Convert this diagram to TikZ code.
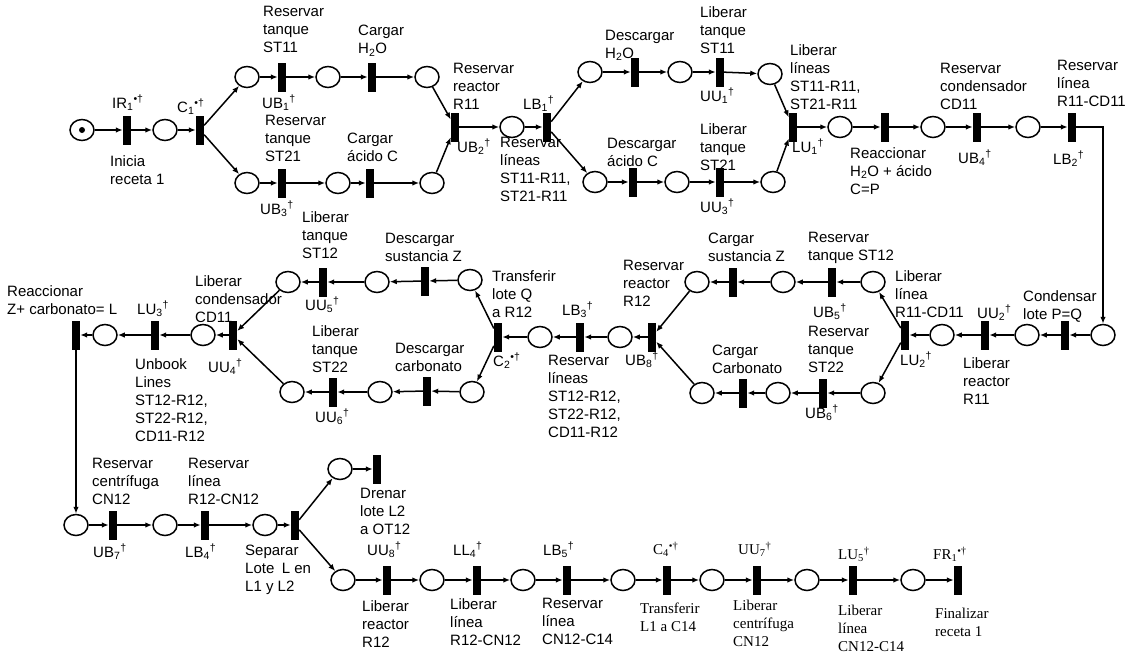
\documentclass[tikz,border=0pt]{standalone}
\usepackage{fontspec}
\setmainfont{Liberation Sans}
\newfontfamily\timesfont{Liberation Serif}
\usepackage{tikz}
\usetikzlibrary{shapes.geometric, arrows.meta}

% transition names: plain and coloured (bullet) ones
\newcommand{\tn}[2]{#1\textsubscript{#2}\textsuperscript{†}}
\newcommand{\tc}[2]{#1\textsubscript{#2}\textsuperscript{•†}}

\tikzset{
    place/.style={draw, ellipse, line width=1.5pt, minimum width=24pt, minimum height=21pt, inner sep=0pt},
    trans/.style={fill=black, rectangle, minimum width=8pt, minimum height=29pt, inner sep=0pt},
    lbl/.style={align=left, inner sep=0pt, anchor=north west, font=\fontsize{15}{18}\selectfont},
    slbl/.style={lbl, font=\fontsize{15}{18}\selectfont\timesfont},
    flow/.style={line width=1.5pt, ->}
}

\begin{document}
\begin{tikzpicture}[x=1pt, y=-1pt, >={Latex[length=7pt,width=5.5pt]}]
    \useasboundingbox (0,0) rectangle (1135,653);

    % first row: charge R11
    \node[place] (p0) at (82,130) {};
    \fill (p0) circle (3pt);
    \node[trans] (IR1) at (127,130) {};
    \node[place] (p1) at (165,130) {};
    \node[trans] (C1) at (200,130) {};
    \node[place] (pu1) at (247,77) {};
    \node[trans] (UB1) at (282,77) {};
    \node[place] (pu2) at (328,77) {};
    \node[trans] (CH) at (372,77) {};
    \node[place] (pu3) at (427,77) {};
    \node[place] (pl1) at (247,183) {};
    \node[trans] (UB3) at (282,183) {};
    \node[place] (pl2) at (338,183) {};
    \node[trans] (CA) at (370,183) {};
    \node[place] (pl3) at (432,183) {};
    \node[trans] (UB2) at (455,127) {};
    \node[place] (p2) at (512,127) {};
    \node[trans] (LB1) at (547,127) {};
    \node[place] (qu1) at (590,72) {};
    \node[trans] (DH) at (635,72) {};
    \node[place] (qu2) at (680,72) {};
    \node[trans] (UU1) at (720,72) {};
    \node[place] (qu3) at (770,74) {};
    \node[place] (ql1) at (595,182) {};
    \node[trans] (DA) at (633,182) {};
    \node[place] (ql2) at (677,182) {};
    \node[trans] (UU3) at (720,182) {};
    \node[place] (ql3) at (773,182) {};
    \node[trans] (LU1) at (793,127) {};
    \node[place] (p3) at (840,127) {};
    \node[trans] (RC) at (885,127) {};
    \node[place] (p4) at (933,127) {};
    \node[trans] (UB4) at (977,127) {};
    \node[place] (p5) at (1028,127) {};
    \node[trans] (LB2) at (1072,127) {};

    % second row: runs right to left
    \node[place] (p6) at (1103,335) {};
    \node[trans] (CQ) at (1065,335) {};
    \node[place] (p7) at (1027,335) {};
    \node[trans] (UU2) at (985,335) {};
    \node[place] (p8) at (942,335) {};
    \node[trans] (LU2) at (905,335) {};
    \node[place] (ru1) at (873,282) {};
    \node[trans] (UB5) at (832,282) {};
    \node[place] (ru2) at (783,282) {};
    \node[trans] (CZ) at (733,282) {};
    \node[place] (ru3) at (697,282) {};
    \node[place] (rl1) at (873,393) {};
    \node[trans] (UB6) at (823,393) {};
    \node[place] (rl2) at (778,393) {};
    \node[trans] (CC) at (743,393) {};
    \node[place] (rl3) at (702,393) {};
    \node[trans] (UB8) at (652,337) {};
    \node[place] (p9) at (620,337) {};
    \node[trans] (LB3) at (580,337) {};
    \node[place] (p10) at (540,337) {};
    \node[trans] (C2) at (498,337) {};
    \node[place] (su1) at (470,280) {};
    \node[trans] (DZ) at (425,281) {};
    \node[place] (su2) at (377,282) {};
    \node[trans] (UU5) at (323,282) {};
    \node[place] (su3) at (288,282) {};
    \node[place] (sl1) at (472,392) {};
    \node[trans] (DC) at (427,391) {};
    \node[place] (sl2) at (380,392) {};
    \node[trans] (UU6) at (333,392) {};
    \node[place] (sl3) at (292,392) {};
    \node[trans] (UU4) at (233,335) {};
    \node[place] (p11) at (203,335) {};
    \node[trans] (LU3) at (155,335) {};
    \node[place] (p12) at (105,335) {};
    \node[trans] (RL) at (76,335) {};

    % third row
    \node[place] (p13) at (76,525) {};
    \node[trans] (UB7) at (113,525) {};
    \node[place] (p14) at (165,525) {};
    \node[trans] (LB4) at (205,525) {};
    \node[place] (p15) at (265,525) {};
    \node[trans] (SP) at (295,525) {};
    \node[place] (tu) at (340,469) {};
    \node[trans] (DR) at (377,469) {};
    \node[place] (t1) at (343,580) {};
    \node[trans] (UU8) at (387,580) {};
    \node[place] (t2) at (432,580) {};
    \node[trans] (LL4) at (477,580) {};
    \node[place] (t3) at (523,580) {};
    \node[trans] (LB5) at (567,580) {};
    \node[place] (t4) at (623,580) {};
    \node[trans] (C4) at (667,580) {};
    \node[place] (t5) at (712,580) {};
    \node[trans] (UU7) at (757,580) {};
    \node[place] (t6) at (807,580) {};
    \node[trans] (LU5) at (853,580) {};
    \node[place] (t7) at (913,580) {};
    \node[trans] (FR1) at (958,580) {};

    \foreach \a/\b in {p0/IR1, IR1/p1, p1/C1, C1/pu1, C1/pl1, pu1/UB1, UB1/pu2, pu2/CH, CH/pu3, pu3/UB2,
        pl1/UB3, UB3/pl2, pl2/CA, CA/pl3, pl3/UB2, UB2/p2, p2/LB1, LB1/qu1, LB1/ql1,
        qu1/DH, DH/qu2, qu2/UU1, UU1/qu3, qu3/LU1, ql1/DA, DA/ql2, ql2/UU3, UU3/ql3, ql3/LU1,
        LU1/p3, p3/RC, RC/p4, p4/UB4, UB4/p5, p5/LB2,
        p6/CQ, CQ/p7, p7/UU2, UU2/p8, p8/LU2, LU2/ru1, LU2/rl1,
        ru1/UB5, UB5/ru2, ru2/CZ, CZ/ru3, ru3/UB8, rl1/UB6, UB6/rl2, rl2/CC, CC/rl3, rl3/UB8,
        UB8/p9, p9/LB3, LB3/p10, p10/C2, C2/su1, C2/sl1,
        su1/DZ, DZ/su2, su2/UU5, UU5/su3, su3/UU4, sl1/DC, DC/sl2, sl2/UU6, UU6/sl3, sl3/UU4,
        UU4/p11, p11/LU3, LU3/p12, p12/RL, RL/p13,
        p13/UB7, UB7/p14, p14/LB4, LB4/p15, p15/SP, SP/tu, tu/DR, SP/t1,
        t1/UU8, UU8/t2, t2/LL4, LL4/t3, t3/LB5, LB5/t4, t4/C4, C4/t5, t5/UU7, UU7/t6, t6/LU5, LU5/t7, t7/FR1}
        \draw[flow] (\a) -- (\b);
    \draw[flow] (LB2) -| (p6);

    % labels, first row
    \node[lbl] (lIR1) at (112,95) {\tc{IR}{1}};
    \node[lbl] (lIR1b) at (110,155) {Inicia\\receta 1};
    \node[lbl] (lC1) at (177,99) {\tc{C}{1}};
    \node[lbl] (lUB1) at (263,6) {Reservar\\tanque\\ST11};
    \node[lbl] (lUB1b) at (262,95) {\tn{UB}{1}};
    \node[lbl] (lCH) at (358,25) {Cargar\\H\textsubscript{2}O};
    \node[lbl] (lUB3) at (265,115) {Reservar\\tanque\\ST21};
    \node[lbl] (lUB3b) at (260,201) {\tn{UB}{3}};
    \node[lbl] (lCA) at (347,133) {Cargar\\ácido C};
    \node[lbl] (lUB2) at (453,63) {Reservar\\reactor\\R11};
    \node[lbl] (lUB2b) at (457,139) {\tn{UB}{2}};
    \node[lbl] (lLB1) at (523,96) {\tn{LB}{1}};
    \node[lbl] (lLB1b) at (500,137) {Reservar\\líneas\\ST11-R11,\\ST21-R11};
    \node[lbl] (lDH) at (605,30) {Descargar\\H\textsubscript{2}O};
    \node[lbl] (lUU1) at (700,6) {Liberar\\tanque\\ST11};
    \node[lbl] (lUU1b) at (700,88) {\tn{UU}{1}};
    \node[lbl] (lDA) at (607,138) {Descargar\\ácido C};
    \node[lbl] (lUU3) at (700,123) {Liberar\\tanque\\ST21};
    \node[lbl] (lUU3b) at (700,199) {\tn{UU}{3}};
    \node[lbl] (lLU1) at (790,44) {Liberar\\líneas\\ST11-R11,\\ST21-R11};
    \node[lbl] (lLU1b) at (792,139) {\tn{LU}{1}};
    \node[lbl] (lRC) at (850,147) {Reaccionar\\H\textsubscript{2}O + ácido\\C=P};
    \node[lbl] (lUB4) at (940,63) {Reservar\\condensador\\CD11};
    \node[lbl] (lUB4b) at (958,150) {\tn{UB}{4}};
    \node[lbl] (lLB2) at (1057,60) {Reservar\\línea\\R11-CD11};
    \node[lbl] (lLB2b) at (1053,151) {\tn{LB}{2}};

    % labels, second row
    \node[lbl] (lLU2) at (895,270) {Liberar\\línea\\R11-CD11};
    \node[lbl] (lLU2b) at (900,352) {\tn{LU}{2}};
    \node[lbl] (lUU2) at (977,305) {\tn{UU}{2}};
    \node[lbl] (lUU2b) at (963,357) {Liberar\\reactor\\R11};
    \node[lbl] (lCQ) at (1023,290) {Condensar\\lote P=Q};
    \node[lbl] (lUB5) at (808,232) {Reservar\\tanque ST12};
    \node[lbl] (lUB5b) at (813,304) {\tn{UB}{5}};
    \node[lbl] (lUB6) at (808,326) {Reservar\\tanque\\ST22};
    \node[lbl] (lUB6b) at (805,405) {\tn{UB}{6}};
    \node[lbl] (lCZ) at (708,233) {Cargar\\sustancia Z};
    \node[lbl] (lCC) at (712,345) {Cargar\\Carbonato};
    \node[lbl] (lUB8) at (623,260) {Reservar\\reactor\\R12};
    \node[lbl] (lUB8b) at (625,352) {\tn{UB}{8}};
    \node[lbl] (lLB3) at (562,302) {\tn{LB}{3}};
    \node[lbl] (lLB3b) at (548,355) {Reservar\\líneas\\ST12-R12,\\ST22-R12,\\CD11-R12};
    \node[lbl] (lC2) at (492,270) {Transferir\\lote Q\\a R12};
    \node[lbl] (lC2b) at (493,353) {\tc{C}{2}};
    \node[lbl] (lDZ) at (385,233) {Descargar\\sustancia Z};
    \node[lbl] (lUU5) at (302,211) {Liberar\\tanque\\ST12};
    \node[lbl] (lUU5b) at (305,297) {\tn{UU}{5}};
    \node[lbl] (lDC) at (395,343) {Descargar\\carbonato};
    \node[lbl] (lUU6) at (312,325) {Liberar\\tanque\\ST22};
    \node[lbl] (lUU6b) at (315,409) {\tn{UU}{6}};
    \node[lbl] (lUU4) at (195,275) {Liberar\\condensador\\CD11};
    \node[lbl] (lUU4b) at (208,359) {\tn{UU}{4}};
    \node[lbl] (lLU3) at (137,301) {\tn{LU}{3}};
    \node[lbl] (lLU3b) at (135,358) {Unbook\\Lines\\ST12-R12,\\ST22-R12,\\CD11-R12};
    \node[lbl] (lRL) at (7,285) {Reaccionar\\Z+ carbonato= L};

    % labels, third row
    \node[lbl] (lUB7) at (92,458) {Reservar\\centrífuga\\CN12};
    \node[lbl] (lUB7b) at (93,544) {\tn{UB}{7}};
    \node[lbl] (lLB4) at (188,458) {Reservar\\línea\\R12-CN12};
    \node[lbl] (lLB4b) at (185,544) {\tn{LB}{4}};
    \node[lbl] (lSP) at (245,545) {Separar\\Lote\enspace L en\\L1 y L2};
    \node[lbl] (lDR) at (360,488) {Drenar\\lote L2\\a OT12};
    \node[lbl] (lUU8) at (367,542) {\tn{UU}{8}};
    \node[lbl] (lUU8b) at (362,600) {Liberar\\reactor\\R12};
    \node[lbl] (lLL4) at (453,542) {\tn{LL}{4}};
    \node[lbl] (lLL4b) at (450,598) {Liberar\\línea\\R12-CN12};
    \node[lbl] (lLB5) at (543,542) {\tn{LB}{5}};
    \node[lbl] (lLB5b) at (542,598) {Reservar\\línea\\CN12-C14};
    \node[slbl] (lC4) at (653,542) {\tc{C}{4}};
    \node[slbl] (lC4b) at (640,603) {Transferir\\L1 a C14};
    \node[slbl] (lUU7) at (738,542) {\tn{UU}{7}};
    \node[slbl] (lUU7b) at (733,600) {Liberar\\centrífuga\\CN12};
    \node[slbl] (lLU5) at (838,547) {\tn{LU}{5}};
    \node[slbl] (lLU5b) at (838,605) {Liberar\\línea\\CN12-C14};
    \node[slbl] (lFR1) at (933,547) {\tc{FR}{1}};
    \node[slbl] (lFR1b) at (935,608) {Finalizar\\receta 1};
\end{tikzpicture}
\end{document}
